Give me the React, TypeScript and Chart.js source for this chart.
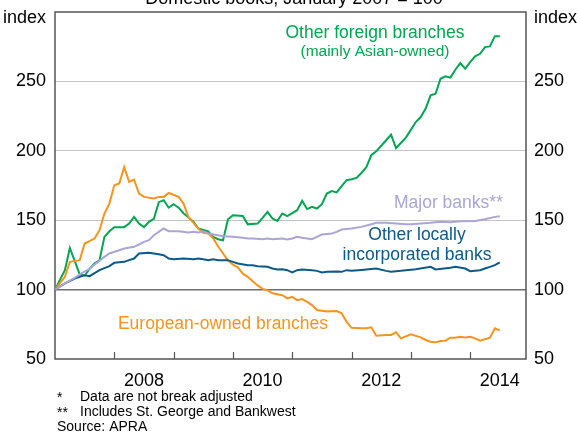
import React, { useEffect, useRef } from "react";
import { Chart, registerables } from "chart.js";
Chart.register(...registerables);

// months since January 2007
const greenMonths = [0, 2, 3, 5, 6, 7, 8, 9, 10, 11, 12, 14, 15, 16, 17, 18, 19, 20, 21, 22, 23, 24, 25, 26, 28, 29, 30, 31, 32, 33, 34, 35, 36, 38, 39, 41, 42, 43, 44, 45, 46, 47, 49, 50, 51, 52, 53, 54, 55, 56, 57, 58, 59, 60, 61, 62, 63, 64, 65, 67, 68, 69, 71, 73, 74, 75, 76, 77, 78, 79, 80, 81, 82, 83, 84, 85, 86, 87, 88, 89, 90];
const greenValues = [100, 114, 130, 111, 110, 115, 119, 121, 138, 142, 145, 145, 147.6, 152.4, 147.6, 145, 148.8, 151, 163, 164.4, 159, 161.5, 159, 155, 149, 144, 143, 142, 138, 136.3, 135.5, 150.7, 153.6, 153, 147, 147.6, 151.7, 156, 151.2, 149.5, 154.8, 153, 157.2, 164, 158, 159.6, 158.4, 161.5, 169.2, 171, 170, 174.5, 178.8, 179.5, 180.5, 184, 188.3, 196.8, 199.6, 207.6, 211.7, 202, 209.5, 220.7, 224.3, 230.4, 240, 241.1, 251.9, 253.6, 252.7, 258.4, 263.2, 259.1, 263.9, 268, 269.9, 274.7, 275.2, 282.6, 282.6];

const orangeMonths = [0, 2, 3, 5, 6, 8, 9, 10, 11, 12, 13, 14, 15, 16, 17, 18, 20, 21, 22, 23, 25, 26, 27, 29, 30, 31, 32, 33, 34, 35, 36, 37, 38, 39, 40, 41, 42, 43, 44, 46, 47, 48, 49, 50, 51, 52, 53, 55, 57, 58, 59, 60, 62, 63, 64, 65, 67, 68, 69, 70, 72, 74, 75, 76, 77, 78, 79, 80, 81, 82, 83, 84, 85, 86, 88, 89, 90];
const orangeValues = [100, 109.2, 120, 121.2, 133.2, 136.8, 142.8, 154.8, 162, 175.2, 176.4, 188.3, 177.6, 179.3, 169.2, 166.8, 165.6, 166.8, 166.8, 169.6, 166.8, 162, 152.4, 144, 141, 140.5, 137, 131, 126, 121, 118, 116, 111.5, 109.2, 106, 103, 100.5, 99.5, 97.3, 96, 93.7, 94.8, 92.4, 93.2, 91.2, 88.8, 85.3, 84.3, 84.5, 82.9, 76.8, 72.5, 72.1, 72.1, 72.8, 66.8, 67.3, 67.3, 69.2, 64.9, 67.8, 65.6, 63.7, 62.5, 62, 63, 63.2, 65.3, 65.3, 66, 65.5, 66, 64.9, 63.2, 65.3, 72.1, 70.4];

const majorMonths = [0, 2, 4, 5, 7, 8, 10, 11, 13, 14, 16, 17, 18, 19, 20, 22, 23, 25, 27, 28, 29, 30, 31, 33, 34, 36, 38, 39, 40, 42, 43, 44, 46, 47, 48, 49, 50, 52, 53, 54, 56, 57, 58, 60, 62, 64, 65, 67, 69, 71, 72, 74, 76, 78, 80, 82, 85, 87, 89, 90];
const majorValues = [100, 104.5, 108.5, 111, 115, 118, 123.6, 126, 128.4, 129.6, 130.8, 132.5, 134.4, 135.6, 139.2, 144, 142.1, 142.1, 141.2, 141.6, 141.2, 142, 140.4, 139.2, 138.5, 138, 137.3, 136.8, 136.8, 136.3, 136.8, 136.3, 136.8, 136.1, 136.8, 138, 137.3, 136.3, 138, 139.7, 140.4, 141.6, 143.3, 144, 145.2, 147.1, 148.1, 148.1, 147.6, 147.1, 147.1, 147.6, 148.1, 148.8, 148.5, 149.3, 149.5, 150.7, 152.4, 152.9];

const localMonths = [0, 2, 4, 6, 7, 9, 11, 12, 14, 15, 16, 17, 19, 20, 21, 22, 23, 24, 26, 28, 29, 30, 31, 32, 33, 35, 36, 37, 39, 40, 41, 43, 44, 45, 46, 47, 48, 49, 50, 52, 53, 54, 55, 57, 58, 59, 60, 62, 63, 65, 67, 68, 70, 71, 73, 76, 77, 80, 81, 83, 84, 86, 87, 88, 89, 90];
const localValues = [100, 104.5, 108, 110.4, 109.7, 114, 116.9, 119.3, 120, 121.2, 122.4, 126, 126.5, 126, 125.5, 124.8, 122.4, 121.9, 122.4, 121.9, 122.4, 121.8, 121.2, 121.9, 121.2, 121.2, 120, 118.8, 117.6, 117.6, 116.9, 116.4, 115.2, 114.5, 114.7, 114, 112.4, 114, 114.5, 114, 113.5, 112.4, 112.8, 113, 112.8, 114, 113.5, 114.2, 114.5, 115.2, 113.5, 112.8, 113.5, 114, 114.7, 116.4, 114.5, 115.7, 116.4, 115.2, 113.3, 114, 115.2, 116.4, 117.6, 119.6];

const yTickValues = [50, 100, 150, 200, 250];
const yearBoundaryMonths = [12, 24, 36, 48, 60, 72, 84];
const yearLabelMonths = [18, 42, 66, 90];
const yearLabels = ["2008", "2010", "2012", "2014"];

const GREEN = "#00a651";
const ORANGE = "#f7941d";
const LAVENDER = "#a9a6d6";
const BLUE = "#0b5a8a";
const FONT = "'Liberation Sans', Arial, sans-serif";

function toPoints(ms: number[], vs: number[]) {
  return ms.map((m, i) => ({ x: m, y: vs[i] }));
}

const decorPlugin = {
  id: "decor",
  beforeDatasetsDraw(chart: any) {
    const { ctx, chartArea } = chart;
    const xs = chart.scales.x;
    ctx.save();
    ctx.strokeStyle = "#555";
    ctx.lineWidth = 1.5;
    ctx.strokeRect(chartArea.left, chartArea.top, chartArea.right - chartArea.left, chartArea.bottom - chartArea.top);
    ctx.lineWidth = 1.2;
    for (const m of yearBoundaryMonths) {
      const px = Math.round(xs.getPixelForValue(m)) + 0.5;
      ctx.beginPath();
      ctx.moveTo(px, chartArea.bottom);
      ctx.lineTo(px, chartArea.bottom - 7);
      ctx.stroke();
    }
    ctx.restore();
  },
  afterDatasetsDraw(chart: any) {
    const { ctx, chartArea } = chart;
    ctx.save();
    ctx.textBaseline = "middle";
    ctx.textAlign = "center";
    ctx.font = `17.5px ${FONT}`;
    ctx.fillStyle = GREEN;
    ctx.fillText("Other foreign branches", 375, 33);
    ctx.font = `15.5px ${FONT}`;
    ctx.fillText("(mainly Asian-owned)", 375, 52);
    ctx.font = `17.5px ${FONT}`;
    ctx.fillStyle = LAVENDER;
    ctx.textAlign = "left";
    ctx.fillText("Major banks**", 394, 203);
    ctx.textAlign = "center";
    ctx.fillStyle = BLUE;
    ctx.fillText("Other locally", 417, 235);
    ctx.fillText("incorporated banks", 417, 255);
    ctx.fillStyle = ORANGE;
    ctx.fillText("European-owned branches", 223, 324);

    ctx.fillStyle = "#000";
    ctx.font = `18px ${FONT}`;
    ctx.textAlign = "right";
    ctx.fillText("index", chartArea.left - 9, 18);
    ctx.textAlign = "left";
    ctx.fillText("index", chartArea.right + 8, 18);

    ctx.textAlign = "center";
    ctx.textBaseline = "alphabetic";
    ctx.fillText("Domestic books; January 2007 = 100", 294, 4);

    ctx.font = `14px ${FONT}`;
    ctx.textBaseline = "middle";
    ctx.textAlign = "left";
    ctx.fillText("*", 57, 398);
    ctx.fillText("Data are not break adjusted", 80, 397);
    ctx.fillText("**", 57, 413);
    ctx.fillText("Includes St. George and Bankwest", 80, 412);
    ctx.fillText("Source: APRA", 57, 427);
    ctx.restore();
  },
};

export default function App() {
  const ref = useRef<HTMLCanvasElement>(null);
  useEffect(() => {
    if (!ref.current) return;
    const lineDs = (label: string, ms: number[], vs: number[], color: string) => ({
      label,
      data: toPoints(ms, vs),
      borderColor: color,
      backgroundColor: color,
      borderWidth: 2,
      pointRadius: 0,
      tension: 0,
      fill: false,
    });
    const yCommon = (position: "left" | "right") => ({
      type: "linear" as const,
      position,
      min: 50,
      max: 300,
      afterBuildTicks: (s: any) => {
        s.ticks = yTickValues.map((v) => ({ value: v }));
      },
      border: { display: false },
      ticks: {
        color: "#000",
        font: { size: 18, family: FONT },
        padding: position === "left" ? 9 : 8,
      },
    });
    const chart = new Chart(ref.current, {
      type: "line",
      data: {
        datasets: [
          lineDs("Major banks", majorMonths, majorValues, LAVENDER),
          lineDs("Other locally incorporated banks", localMonths, localValues, BLUE),
          lineDs("European-owned branches", orangeMonths, orangeValues, ORANGE),
          lineDs("Other foreign branches", greenMonths, greenValues, GREEN),
        ],
      },
      options: {
        responsive: false,
        maintainAspectRatio: false,
        animation: false,
        events: [],
        layout: { padding: { top: 12, left: 0, right: 0, bottom: 0 } },
        plugins: { legend: { display: false }, tooltip: { enabled: false } },
        scales: {
          x: {
            type: "linear",
            min: 0,
            max: 95.3,
            afterBuildTicks: (s: any) => {
              s.ticks = yearLabelMonths.map((v) => ({ value: v }));
            },
            afterFit: (s: any) => {
              s.height = 75;
              s.paddingLeft = 0;
              s.paddingRight = 0;
            },
            grid: { display: false },
            border: { display: false },
            ticks: {
              color: "#000",
              font: { size: 18, family: FONT },
              padding: 3,
              maxRotation: 0,
              autoSkip: false,
              callback: (v: any) => {
                const i = yearLabelMonths.indexOf(Number(v));
                return i >= 0 ? yearLabels[i] : "";
              },
            },
          },
          y: {
            ...yCommon("left"),
            afterFit: (s: any) => {
              s.width = 55;
              s.paddingTop = 0;
              s.paddingBottom = 0;
            },
            grid: {
              drawTicks: false,
              lineWidth: (c: any) => (c.tick && c.tick.value === 100 ? 1.5 : 1),
              color: (c: any) => {
                const v = c.tick ? c.tick.value : 0;
                if (v === 100) return "#6e6e6e";
                if (v === 50) return "rgba(0,0,0,0)";
                return "#c4c4c4";
              },
            },
          },
          y2: {
            ...yCommon("right"),
            afterFit: (s: any) => {
              s.width = 51;
              s.paddingTop = 0;
              s.paddingBottom = 0;
            },
            grid: { display: false, drawTicks: false },
          },
        },
      },
      plugins: [decorPlugin],
    } as any);
    return () => chart.destroy();
  }, []);
  return (
    <div style={{ position: "absolute", left: 0, top: 0, width: 577, height: 434, background: "#fff" }}>
      <canvas ref={ref} width={577} height={434} style={{ width: 577, height: 434, display: "block" }} />
    </div>
  );
}
